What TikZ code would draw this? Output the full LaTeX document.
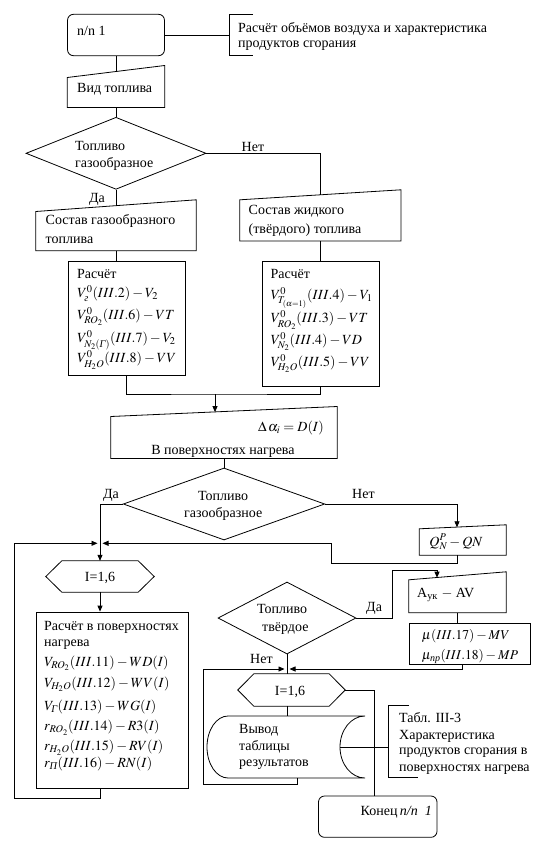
\documentclass[tikz,border=0pt]{standalone}
\usepackage{amsmath}
\usepackage{mathptmx}
\usepackage{fontspec}
\setmainfont{Liberation Serif}
\usetikzlibrary{arrows.meta,calc,fit,shapes.geometric}
\begin{document}
\begin{tikzpicture}[x=1pt,y=-1pt,
  ln/.style={line width=0.8pt},
  arr/.style={ln,-{Triangle[length=6pt,width=5pt]}},
  frame/.style={fit={#1},inner sep=0pt,draw=none,rectangle},
  boxx/.style={fit={#1},inner sep=0pt,draw,rectangle,ln},
  rbox/.style={fit={#1},inner sep=0pt,draw,rectangle,ln,rounded corners=6pt},
  txt/.style={inner sep=0pt,anchor=base west,font=\fontsize{14}{16}\selectfont},
  dia/.style={draw,ln,diamond,inner sep=0pt}]
\fill[white] (0,0) rectangle (546,846);
\useasboundingbox (0,0) rectangle (546,846);

% ---------- shapes ----------
\node[rbox={(67.5,14.3) (164.5,55.7)}] (start) {};
\node[frame={(67.5,65.7) (164.5,107.3)}] (vid) {};
\draw[ln] (vid.south west) -- (vid.south east) -- (vid.north east) -- ($(vid.north west)+(0,12)$) -- cycle;
\node[dia,minimum width=180pt,minimum height=72pt] (d1) at (116,153.3) {};
\node[frame={(36,200) (196,250.5)}] (li) {};
\draw[ln] (li.south west) -- (li.south east) -- (li.north east) -- ($(li.north west)+(0,11.7)$) -- cycle;
\node[frame={(240,190) (400.7,240.7)}] (ri) {};
\draw[ln] (ri.south west) -- (ri.south east) -- (ri.north east) -- ($(ri.north west)+(0,10)$) -- cycle;
\node[boxx={(68,261.7) (185,375)}] (c1) {};
\node[boxx={(262,261.7) (379,386)}] (c2) {};
\node[frame={(111,406.7) (337,458.3)}] (da) {};
\draw[ln] (da.south west) -- (da.south east) -- (da.north east) -- ($(da.north west)+(0,10)$) -- cycle;
\node[dia,minimum width=201.5pt,minimum height=72pt] (d2) at (224,504) {};
\node[frame={(419.5,525) (506,555)}] (qn) {};
\draw[ln] (qn.south west) -- (qn.south east) -- (qn.north east) -- ($(qn.north west)+(0,4)$) -- cycle;
\node[frame={(46,561) (154,592)}] (h1) {};
\draw[ln] (h1.west) -- ($(h1.north west)+(16,0)$) -- ($(h1.north east)+(-16,0)$) -- (h1.east) -- ($(h1.south east)+(-16,0)$) -- ($(h1.south west)+(16,0)$) -- cycle;
\node[boxx={(36,612) (188,788.3)}] (bb) {};
\node[dia,minimum width=138pt,minimum height=72pt] (d3) at (287,618) {};
\node[frame={(409,572) (506,612.5)}] (ak) {};
\draw[ln] (ak.south west) -- (ak.south east) -- (ak.north east) -- ($(ak.north west)+(0,8)$) -- cycle;
\node[boxx={(409,623) (530,664.5)}] (mu) {};
\node[frame={(238,674) (345,706)}] (h2) {};
\draw[ln] (h2.west) -- ($(h2.north west)+(16,0)$) -- ($(h2.north east)+(-16,0)$) -- (h2.east) -- ($(h2.south east)+(-16,0)$) -- ($(h2.south west)+(16,0)$) -- cycle;
\node[frame={(207,716) (365,778)}] (disp) {};
\draw[ln] (228,716) -- (365,716) .. controls (351.2,716) and (340,729.9) .. (340,747)
  .. controls (340,764.1) and (351.2,778) .. (365,778) -- (228,778)
  .. controls (216.4,778) and (207,764.1) .. (207,747)
  .. controls (207,729.9) and (216.4,716) .. (228,716) -- cycle;
\node[rbox={(318.5,796) (437,837.3)}] (end) {};

% brackets
\draw[ln] (253,14) -- (229,14) -- (229,55) -- (253,55);
\draw[ln] (409,705) -- (388,705) -- (388,777) -- (418,777);

% ---------- connector points ----------
\coordinate (br1) at (229,35);
\coordinate (br2) at (388,747);
\coordinate (dispR) at (340,747);
\coordinate (jn) at (215,394);
\coordinate (daT) at (215,412.1);
\coordinate (qnT) at (457,527.3);
\coordinate (qnB) at (457,555);
\coordinate (lp1) at (331,563);
\coordinate (m1R) at (102.5,543.3);
\coordinate (m1L) at (97.5,543.3);
\coordinate (bbB) at (100.8,788.3);
\coordinate (lp2) at (14.7,798.3);
\coordinate (ak1) at (392,570);
\coordinate (akT) at (437,577.7);
\coordinate (akB) at (457,612.5);
\coordinate (muB) at (462,664.5);
\coordinate (m2R) at (289.5,669);
\coordinate (m2L) at (284.5,669);
\coordinate (dispB) at (297,778);
\coordinate (lp3) at (203,784);
\coordinate (endT) at (374.5,796);

% ---------- connectors ----------
\draw[ln] (start.east) -- (br1);
\draw[ln] (start.south) -- ($(vid.north)+(0,6)$);
\draw[ln] (vid.south) -- (d1.north);
\draw[ln] (d1.east) -| ($(ri.north)+(0,5)$);
\draw[ln] (d1.south) -- ($(li.north)+(0,5.85)$);
\draw[ln] (li.south) -- (li.south |- c1.north);
\draw[ln] (ri.south) -- (ri.south |- c2.north);
\draw[ln] (c1.south) |- (jn) -| (c2.south);
\draw[arr] (jn) -- (daT);
\draw[ln] (da.south) -- (d2.north);
\draw[arr] (d2.west) -| (h1.north);
\draw[arr] (d2.east) -| (qnT);
\draw[arr] (qnB) |- (lp1) |- (m1R);
\draw[arr] (bbB) |- (lp2) |- (m1L);
\draw[arr] (h1.south) -- (h1.south |- bb.north);
\draw[arr] (d3.east) -| (ak1) -| (akT);
\draw[ln] (akB) -- (akB |- mu.north);
\draw[arr] (muB) |- (m2R);
\draw[ln] (d3.south) -- (d3.south |- h2.north);
\draw[arr] (dispB) |- (lp3) |- (m2L);
\draw[ln] (h2.east) -| (endT);
\draw[ln] (d3.south |- h2.south) -- (d3.south |- disp.north);
\draw[ln] (dispR) -- (br2);

% ---------- texts ----------
\node[txt] (t1) at (77,35.5) {n/n 1};
\node[txt] (t2) at (238,32) {Расчёт объёмов воздуха и характеристика};
\node[txt] (t3) at (238,47) {продуктов сгорания};
\node[txt] (t4) at (77,92) {Вид топлива};
\node[txt] (t5) at (75,150.3) {Топливо};
\node[txt] (t6) at (75,167) {газообразное};
\node[txt] (t7) at (241.5,151) {Нет};
\node[txt] (t8) at (89,202) {Да};
\node[txt] (t9) at (45.5,224.3) {Состав газообразного};
\node[txt] (t10) at (45.5,243) {топлива};
\node[txt] (t11) at (248.5,214.3) {Состав жидкого};
\node[txt] (t12) at (248.5,233) {(твёрдого) топлива};

\node[txt] (a1) at (77,278.7) {Расчёт};
\node[txt] (a2) at (77,297.8) {$V^0_{\text{\itshape г}}(III.2)-V_2$};
\node[txt] (a3) at (77,319.5) {$V^0_{RO_2}(III.6)-VT$};
\node[txt] (a4) at (77,342.8) {$V^0_{N_2(\text{\itshape Г})}(III.7)-V_2$};
\node[txt] (a5) at (77,362.8) {$V^0_{H_2O}(III.8)-VV$};

\node[txt] (b1) at (270.5,278.7) {Расчёт};
\node[txt] (b2) at (270.5,299.5) {$V^0_{T_{(\alpha=1)}}(III.4)-V_1$};
\node[txt] (b3) at (270.5,322.8) {$V^0_{RO_2}(III.3)-VT$};
\node[txt] (b4) at (270.5,344.5) {$V^0_{N_2}(III.4)-VD$};
\node[txt] (b5) at (270.5,366.2) {$V^0_{H_2O}(III.5)-VV$};

\node[txt,anchor=base east] (t13) at (324,431.5) {$\Delta\,\alpha_i=D(I)$};
\node[txt,anchor=base] (t14) at (223,454) {В поверхностях нагрева};
\node[txt] (t15) at (198,500.3) {Топливо};
\node[txt] (t16) at (184,517.7) {газообразное};
\node[txt] (t17) at (103,498.5) {Да};
\node[txt] (t18) at (352,498.5) {Нет};
\node[txt,anchor=base] (t19) at (456,546) {$Q^P_N-QN$};
\node[txt,anchor=base] (t20) at (100,581) {I=1,6};

\node[txt] (c1t1) at (44,630.3) {Расчёт в поверхностях};
\node[txt] (c1t2) at (44,646.3) {нагрева};
\node[txt] (c1t3) at (44,666.5) {$V_{RO_2}(III.11)-WD(I)$};
\node[txt] (c1t4) at (44,687) {$V_{H_2O}(III.12)-WV(I)$};
\node[txt] (c1t5) at (44,710.5) {$V_{\text{\itshape Г}}(III.13)-WG(I)$};
\node[txt] (c1t6) at (44,730.8) {$r_{RO_2}(III.14)-R3(I)$};
\node[txt] (c1t7) at (44,750.8) {$r_{H_2O}(III.15)-RV(I)$};
\node[txt] (c1t8) at (44,767.5) {$r_{\text{\itshape П}}(III.16)-RN(I)$};

\node[txt] (t21) at (257,613.5) {Топливо};
\node[txt] (t22) at (262,631) {твёрдое};
\node[txt] (t23) at (366,611.5) {Да};
\node[txt] (t24) at (417,597) {A$_{\text{ук}}$ $-$ AV};
\node[txt,font=\fontsize{13.5}{16}\selectfont] (t25) at (421.7,639) {$\mu(III.17)-MV$};
\node[txt,font=\fontsize{13.5}{16}\selectfont] (t26) at (421.7,659.5) {$\mu_{\text{\itshape пр}}(III.18)-MP$};
\node[txt] (t27) at (250,663.5) {Нет};
\node[txt,anchor=base] (t28) at (290,695) {I=1,6};
\node[txt] (t29) at (239,733) {Вывод};
\node[txt] (t30) at (239,750.5) {таблицы};
\node[txt] (t31) at (239,766) {результатов};
\node[txt] (t32) at (399,722) {Табл. III-3};
\node[txt] (t33) at (399,739) {Характеристика};
\node[txt] (t34) at (399,754.5) {продуктов сгорания в};
\node[txt] (t35) at (399,771) {поверхностях нагрева};
\node[txt,anchor=base east] (t36) at (432,815) {Конец\,{\itshape n/n\ \ 1}};
\end{tikzpicture}
\end{document}
